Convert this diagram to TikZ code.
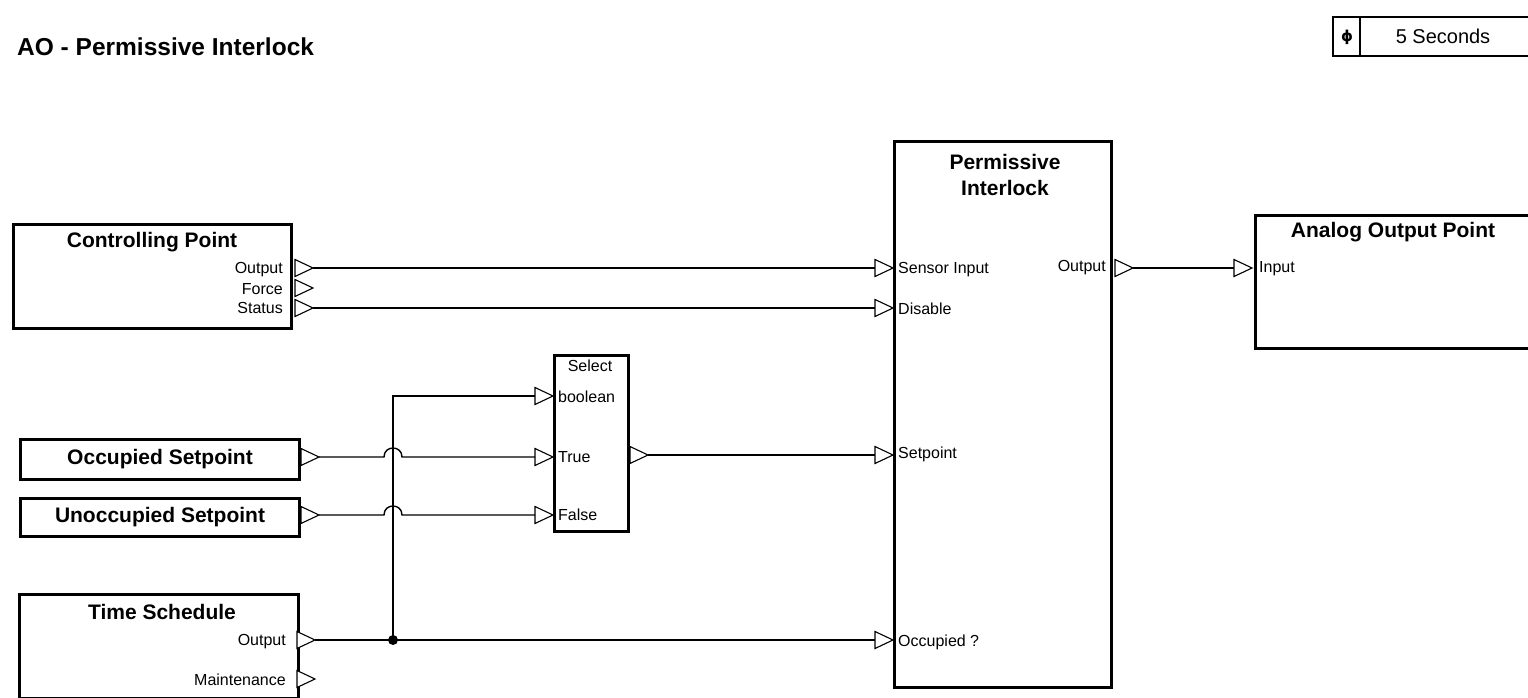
\documentclass[tikz,border=0pt]{standalone}
\usepackage{fontspec}
\setmainfont{Liberation Sans}
\newfontfamily\djv{DejaVu Sans}
\newcommand{\mkport}[3]{%
  \draw[porttri] ({#2},{#3-8.5}) -- ({#2+18},{#3}) -- ({#2},{#3+8.5}) -- cycle;
  \coordinate (#1-in) at ({#2},{#3});
  \coordinate (#1-out) at ({#2+18},{#3});}
\tikzset{
  blk/.style={draw, line width=2.8pt, fill=none, inner sep=0pt, anchor=north west},
  porttri/.style={draw, line width=1.1pt, fill=white},
  wire/.style={draw, line width=1.4pt},
  ttl/.style={font=\fontsize{21}{24}\selectfont\bfseries, inner sep=0pt},
  lbl/.style={font=\fontsize{16}{18}\selectfont, inner sep=0pt},
}
\begin{document}
\begin{tikzpicture}[x=1pt,y=-1pt]
\useasboundingbox (0,0) rectangle (1528,698);
% title
\node[font=\fontsize{24.5}{28}\selectfont\bfseries, inner sep=0pt, anchor=west] (title) at (17,47) {AO - Permissive Interlock};
% top right box
\draw[line width=1.5pt] (1333,17) rectangle (1540,56);
\draw[line width=1.5pt] (1360,17) -- (1360,56);
\node[font=\djv\fontsize{15}{18}\selectfont\bfseries, inner sep=0pt] (phi) at (1347,37) {ϕ};
\node[font=\fontsize{20}{22}\selectfont, inner sep=0pt] (period) at (1443,36) {5 Seconds};

% Controlling Point
\node[blk, minimum width=278pt, minimum height=104pt] (cp) at (12,223) {};
\node[ttl] (cpt) at (152,242) {Controlling Point};
\node[lbl, anchor=east] (cpl1) at (283,270) {Output};
\node[lbl, anchor=east] (cpl2) at (283,289) {Force};
\node[lbl, anchor=east] (cpl3) at (283,308) {Status};
\mkport{cpo}{295}{268}
\mkport{cpf}{295}{288}
\mkport{cps}{295}{308}

% Occupied / Unoccupied setpoints
\node[blk, minimum width=279pt, minimum height=40pt] (osp) at (19,438) {};
\node[ttl] (ospt) at (160,459) {Occupied Setpoint};
\mkport{ospp}{301}{457}
\node[blk, minimum width=279pt, minimum height=38pt] (usp) at (19,497) {};
\node[ttl] (uspt) at (160,517) {Unoccupied Setpoint};
\mkport{uspp}{301}{515}

% Time Schedule
\node[blk, minimum width=279pt, minimum height=104pt] (ts) at (18,593) {};
\node[ttl] (tst) at (162,612) {Time Schedule};
\node[lbl, anchor=east] (tsl1) at (286,642) {Output};
\node[lbl, anchor=east] (tsl2) at (286,680) {Maintenance};
\mkport{tso}{297}{640}
\mkport{tsm}{297}{679}

% Select block
\node[blk, minimum width=74pt, minimum height=176pt] (sel) at (553,354) {};
\node[lbl] (selt) at (590,366) {Select};
\node[lbl, anchor=west] (sell1) at (558,397) {boolean};
\node[lbl, anchor=west] (sell2) at (558,457) {True};
\node[lbl, anchor=west] (sell3) at (558,515) {False};
\mkport{sb}{535}{396}
\mkport{st}{535}{457}
\mkport{sf}{535}{515}
\mkport{so}{630}{455}

% Permissive Interlock
\node[blk, minimum width=217pt, minimum height=546pt] (pi) at (893,140) {};
\node[ttl, align=center, font=\fontsize{21}{26}\selectfont\bfseries] (pit) at (1005,175) {Permissive\\Interlock};
\node[lbl, anchor=west] (pil1) at (898,270) {Sensor Input};
\node[lbl, anchor=west] (pil2) at (898,309) {Disable};
\node[lbl, anchor=west] (pil3) at (898,454) {Setpoint};
\node[lbl, anchor=west] (pil4) at (898,642) {Occupied ?};
\node[lbl, anchor=east] (pil5) at (1106,268) {Output};
\mkport{pis}{875}{268}
\mkport{pid}{875}{308}
\mkport{pisp}{875}{455}
\mkport{pio}{875}{640}
\mkport{piout}{1115}{268}

% Analog Output Point
\node[blk, minimum width=290pt, minimum height=133pt] (ao) at (1254,214) {};
\node[ttl] (aot) at (1393,232) {Analog Output Point};
\node[lbl, anchor=west] (aol1) at (1259,269) {Input};
\mkport{aoi}{1234}{268}

% wires
\coordinate (jn) at (393,640);
\draw[wire] (cpo-out) -- (pis-in);
\draw[wire] (cps-out) -- (pid-in);
\draw[wire] (ospp-out) -- (384,457) .. controls (384,445) and (402,445) .. (402,457) -- (st-in);
\draw[wire] (uspp-out) -- (384,515) .. controls (384,503) and (402,503) .. (402,515) -- (sf-in);
\draw[wire] (tso-out) -- (pio-in);
\draw[wire] (jn) |- (sb-in);
\fill (jn) circle (5pt);
\draw[wire] (so-out) -- (pisp-in);
\draw[wire] (piout-out) -- (aoi-in);
\end{tikzpicture}
\end{document}
